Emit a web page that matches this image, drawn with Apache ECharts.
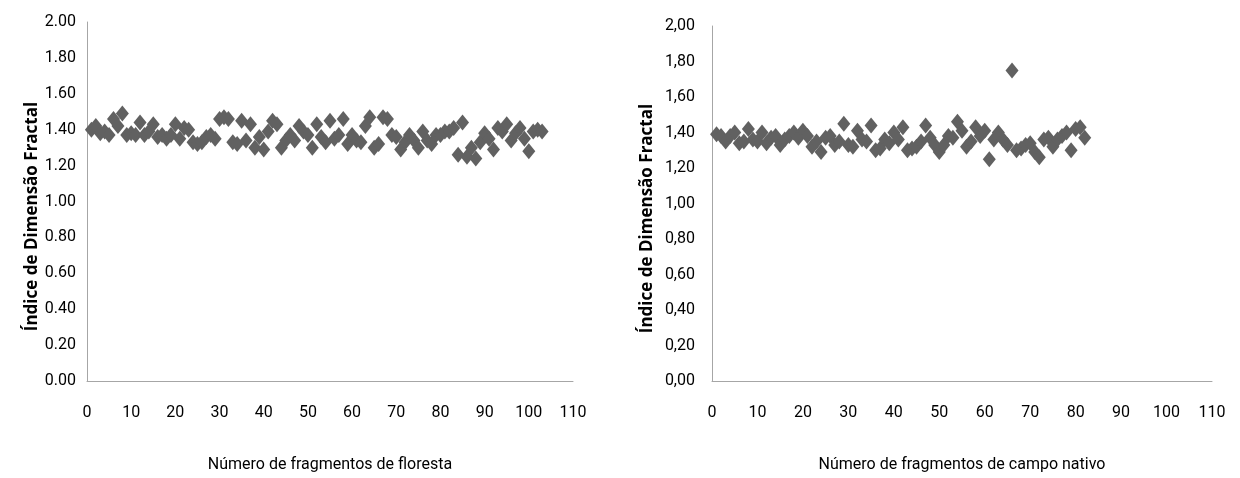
<!DOCTYPE html>
<html>
<head>
<meta charset="utf-8">
<script src="https://cdn.jsdelivr.net/npm/echarts@6/dist/echarts.min.js"></script>
<style>
html,body{margin:0;padding:0;background:#fff;}
#chart{width:1240px;height:478px;}
</style>
</head>
<body>
<div id="chart"></div>
<script>
// Left panel: forest fragments (index 1..103)
const florestaValues = [
  1.40,1.42,1.38,1.39,1.37,1.46,1.42,1.49,1.37,1.38,
  1.37,1.44,1.37,1.39,1.43,1.36,1.37,1.35,1.37,1.43,
  1.35,1.41,1.40,1.33,1.32,1.33,1.36,1.37,1.35,1.46,
  1.47,1.46,1.33,1.32,1.45,1.34,1.43,1.30,1.36,1.29,
  1.39,1.45,1.43,1.30,1.34,1.37,1.34,1.42,1.39,1.37,
  1.30,1.43,1.36,1.33,1.45,1.35,1.37,1.46,1.32,1.37,
  1.34,1.33,1.42,1.47,1.30,1.32,1.47,1.46,1.37,1.36,
  1.29,1.33,1.37,1.34,1.30,1.39,1.34,1.32,1.37,1.37,
  1.39,1.39,1.41,1.26,1.44,1.25,1.30,1.24,1.33,1.38,
  1.35,1.29,1.41,1.39,1.43,1.34,1.38,1.41,1.35,1.28,
  1.39,1.40,1.39
];
// Right panel: native grassland fragments (index 1..82)
const campoValues = [
  1.39,1.38,1.35,1.38,1.40,1.34,1.35,1.42,1.36,1.35,
  1.40,1.34,1.37,1.38,1.33,1.36,1.38,1.40,1.37,1.41,
  1.38,1.32,1.35,1.29,1.37,1.38,1.33,1.35,1.45,1.33,
  1.32,1.41,1.36,1.35,1.44,1.30,1.31,1.36,1.34,1.40,
  1.36,1.43,1.30,1.31,1.32,1.35,1.44,1.37,1.33,1.29,
  1.33,1.38,1.37,1.46,1.41,1.32,1.35,1.43,1.38,1.41,
  1.25,1.36,1.40,1.36,1.33,1.75,1.30,1.31,1.33,1.34,
  1.29,1.26,1.36,1.37,1.32,1.36,1.38,1.40,1.30,1.42,
  1.43,1.37
];
const xTicks = [0,10,20,30,40,50,60,70,80,90,100,110];
const yTicks = [0,0.2,0.4,0.6,0.8,1.0,1.2,1.4,1.6,1.8,2.0];
const yAxisTitle = 'Índice de Dimensão Fractal';
const xTitleLeft = 'Número de fragmentos de floresta';
const xTitleRight = 'Número de fragmentos de campo nativo';

const florestaData = florestaValues.map((v, i) => [i + 1, v]);
const campoData = campoValues.map((v, i) => [i + 1, v]);

const tickFont = 'Roboto, sans-serif';
const axisLineStyle = { lineStyle: { color: '#a6a6a6', width: 1 } };

function xAxis(gridIndex, name) {
  return {
    type: 'value', gridIndex, min: xTicks[0], max: xTicks[xTicks.length - 1], interval: 10,
    name, nameLocation: 'middle', nameGap: 76,
    nameTextStyle: { fontFamily: tickFont, fontSize: 16, color: '#000' },
    axisLine: { show: true, ...axisLineStyle }, axisTick: { show: false },
    splitLine: { show: false },
    axisLabel: { fontFamily: tickFont, fontSize: 16, color: '#000', margin: 24 }
  };
}
function yAxis(gridIndex, sep, nameGap, labelMargin) {
  return {
    type: 'value', gridIndex, min: 0, max: 2, interval: 0.2,
    name: yAxisTitle, nameLocation: 'middle', nameGap,
    nameTextStyle: { fontFamily: 'Open Sans, sans-serif', fontWeight: 'bold', fontSize: 17, color: '#000', padding: [0, 30, 0, 0] },
    axisLine: { show: true, ...axisLineStyle }, axisTick: { show: false },
    splitLine: { show: false },
    axisLabel: { fontFamily: tickFont, fontSize: 16, color: '#000', margin: labelMargin,
      formatter: v => v.toFixed(2).replace('.', sep) }
  };
}

const chart = echarts.init(document.getElementById('chart'));
chart.setOption({
  animation: false,
  grid: [
    { left: 87, top: 22, width: 486, height: 359 },
    { left: 712, top: 26, width: 500, height: 355 }
  ],
  xAxis: [xAxis(0, xTitleLeft), xAxis(1, xTitleRight)],
  yAxis: [yAxis(0, '.', 42, 11), yAxis(1, ',', 56, 17)],
  series: [
    { type: 'scatter', xAxisIndex: 0, yAxisIndex: 0, data: florestaData,
      symbol: 'diamond', symbolSize: [13, 16], itemStyle: { color: '#616161', opacity: 1 } },
    { type: 'scatter', xAxisIndex: 1, yAxisIndex: 1, data: campoData,
      symbol: 'diamond', symbolSize: [13, 16], itemStyle: { color: '#616161', opacity: 1 } }
  ]
});
</script>
</body>
</html>
